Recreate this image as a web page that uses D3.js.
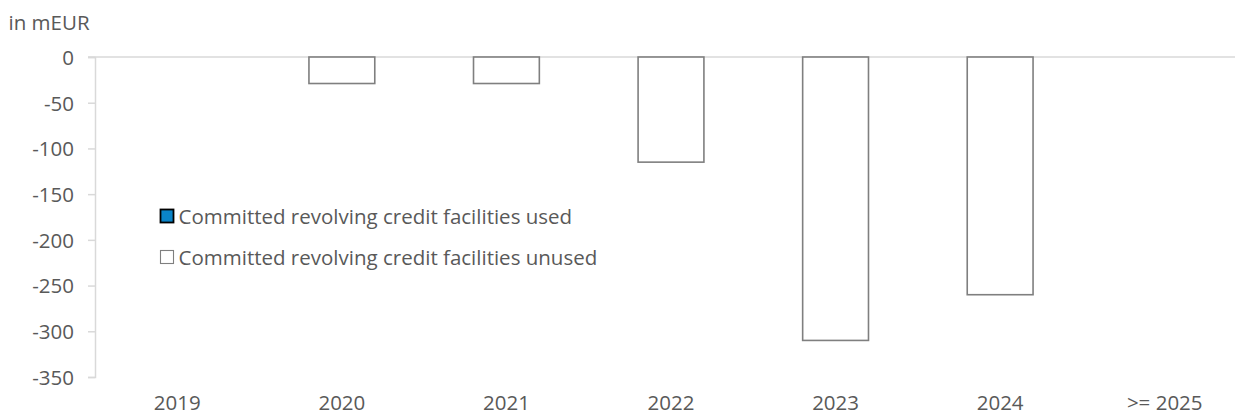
<!DOCTYPE html>
<html>
<head>
<meta charset="utf-8">
<script src="https://cdn.jsdelivr.net/npm/d3@7/dist/d3.min.js"></script>
<style>
  html, body { margin: 0; padding: 0; background: #fff; }
  svg { display: block; }
  text { font-family: "Open Sans", "Noto Sans", sans-serif; fill: #595959; }
</style>
</head>
<body>
<svg id="chart" width="1235" height="416"></svg>
<script>
const categories = ["2019", "2020", "2021", "2022", "2023", "2024", ">= 2025"];
const usedValues = [0, 0, 0, 0, 0, 0, 0];
const unusedValues = [0, -29, -29, -115, -310, -260, 0];
const yTicks = [0, -50, -100, -150, -200, -250, -300, -350];
const seriesNames = ["Committed revolving credit facilities used", "Committed revolving credit facilities unused"];
const unitLabel = "in mEUR";

(function () {
const svg = d3.select("#chart");
const W = 1235;
const FS = 20.5;
const mLeft = 95, mRight = 1247, mTop = 57, mBottom = 377;

const x = d3.scaleBand().domain(categories).range([mLeft, mRight]).paddingInner(0).paddingOuter(0);
const y = d3.scaleLinear().domain([-350, 0]).range([mBottom, mTop]);
const barW = x.bandwidth() * 0.4;

svg.append("text").attr("x", 8.5).attr("y", 30).attr("font-size", FS).text(unitLabel);

const yAxis = d3.axisLeft(y).tickValues(yTicks).tickSize(7).tickPadding(14).tickFormat(d => String(d));
const gy = svg.append("g").attr("transform", `translate(${mLeft},0)`).call(yAxis);
gy.select(".domain").attr("stroke", "#d9d9d9").attr("stroke-width", 1.5);
gy.selectAll(".tick line").attr("stroke", "#d9d9d9").attr("stroke-width", 1.5);
gy.selectAll(".tick text").attr("font-size", FS).attr("fill", "#595959")
  .attr("font-family", "Open Sans").attr("dy", "0.36em");

svg.append("line")
  .attr("x1", mLeft - 7).attr("x2", W)
  .attr("y1", y(0)).attr("y2", y(0))
  .attr("stroke", "#d9d9d9").attr("stroke-width", 1.5);

const xAxis = d3.axisBottom(x).tickSize(0).tickPadding(0);
const gx = svg.append("g").attr("transform", `translate(0,410)`).call(xAxis);
gx.select(".domain").remove();
gx.selectAll(".tick text").attr("font-size", FS).attr("fill", "#595959")
  .attr("font-family", "Open Sans").attr("y", 0).attr("dy", "0");

svg.append("g").selectAll("rect.used").data(categories).join("rect")
  .attr("class", "used")
  .attr("x", d => x(d) + (x.bandwidth() - barW) / 2)
  .attr("y", (d, i) => y(Math.max(0, usedValues[i])))
  .attr("width", barW)
  .attr("height", (d, i) => Math.abs(y(usedValues[i]) - y(0)))
  .attr("fill", "#0a84c8").attr("stroke", "#000").attr("stroke-width", usedValues.some(v => v !== 0) ? 1.5 : 0);

svg.append("g").selectAll("rect.unused").data(categories.filter((d, i) => unusedValues[i] !== 0)).join("rect")
  .attr("class", "unused")
  .attr("x", d => x(d) + (x.bandwidth() - barW) / 2)
  .attr("y", d => y(0))
  .attr("width", barW)
  .attr("height", d => y(unusedValues[categories.indexOf(d)]) - y(0))
  .attr("fill", "#fff").attr("stroke", "#7f7f7f").attr("stroke-width", 1.6);

const legend = svg.append("g");
const legendStyles = [{fill: "#0a84c8", stroke: "#000", sw: 1.8}, {fill: "#fff", stroke: "#7f7f7f", sw: 1.1}];
seriesNames.forEach((name, i) => {
  const ly = 209.5 + i * 41;
  legend.append("rect").attr("x", 160.5).attr("y", ly).attr("width", 13).attr("height", 13)
    .attr("fill", legendStyles[i].fill).attr("stroke", legendStyles[i].stroke).attr("stroke-width", legendStyles[i].sw);
  legend.append("text").attr("x", 178.5).attr("y", ly + 14).attr("font-size", FS).text(name);
});
})();
</script>
</body>
</html>
